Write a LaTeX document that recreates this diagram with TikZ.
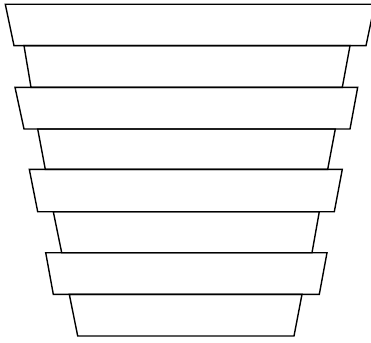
\documentclass[tikz,border=0pt]{standalone}
\begin{document}
\begin{tikzpicture}[x=1pt,y=-1pt,
  outline/.style={draw=black, line width=1.4pt, line join=miter}]
\useasboundingbox (0,0) rectangle (371,342);
\clip (0,0) rectangle (371,342);
% wide bands
\draw[outline] (5.3,4.3) -- (374.7,4.3) -- (366,45.7) -- (14,45.7) -- cycle;
\draw[outline] (15,87.3) -- (357.7,87.3) -- (350,129) -- (24,129) -- cycle;
\draw[outline] (29.3,169.3) -- (342.3,169.3) -- (334.3,211.7) -- (37.7,211.7) -- cycle;
\draw[outline] (45.7,252.7) -- (327,252.7) -- (319.3,294.3) -- (53.3,294.3) -- cycle;
% narrow trapezoids
\draw[outline] (24,45.7) -- (350,45.7) -- (342.3,87.3) -- (31,87.3) -- cycle;
\draw[outline] (37.7,129) -- (335.3,129) -- (327.7,169.3) -- (45.3,169.3) -- cycle;
\draw[outline] (53.3,211.7) -- (319.3,211.7) -- (312,252.7) -- (61.7,252.7) -- cycle;
\draw[outline] (69.3,294.3) -- (302,294.3) -- (294,336) -- (77.7,336) -- cycle;
\end{tikzpicture}
\end{document}
